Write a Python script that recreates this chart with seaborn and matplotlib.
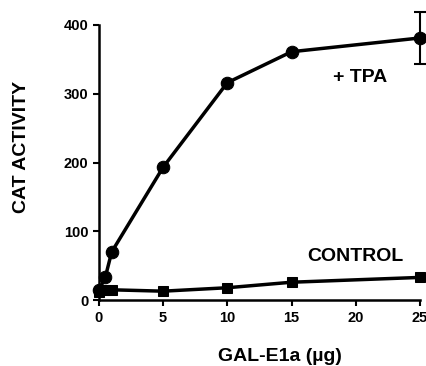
import matplotlib
matplotlib.use("Agg")
import matplotlib.pyplot as plt
import seaborn as sns
import pandas as pd

# values
tpa_dose = [0, 0.5, 1, 5, 10, 15, 25]
tpa_cat = [14, 33, 70, 193, 316, 361, 381]
tpa_err = [0, 0, 0, 0, 0, 0, 38]

ctrl_dose = [0, 0.5, 1, 5, 10, 15, 25]
ctrl_cat = [12, 14, 15, 13, 18, 26, 33]

x_ticks = [0, 5, 10, 15, 20, 25]
y_ticks = [0, 100, 200, 300, 400]

sns.set_style("ticks")
plt.rcParams["font.family"] = ["Liberation Sans", "DejaVu Sans"]
plt.rcParams["font.weight"] = "bold"
plt.rcParams["text.color"] = "black"
plt.rcParams["axes.labelcolor"] = "black"
plt.rcParams["xtick.color"] = "black"
plt.rcParams["ytick.color"] = "black"

tpa = pd.DataFrame({"dose": tpa_dose, "cat": tpa_cat, "err": tpa_err})
ctrl = pd.DataFrame({"dose": ctrl_dose, "cat": ctrl_cat})

fig = plt.figure(figsize=(4.26, 3.66), dpi=100)
ax = fig.add_axes([0.232, 0.180, 0.754, 0.752])

sns.lineplot(data=ctrl, x="dose", y="cat", ax=ax, color="black", lw=2.5,
             marker="s", markersize=7.5, markeredgecolor="black", clip_on=False, zorder=3)
sns.lineplot(data=tpa, x="dose", y="cat", ax=ax, color="black", lw=2.5,
             marker="o", markersize=9, markeredgecolor="black", clip_on=False, zorder=4)
ax.errorbar(tpa["dose"], tpa["cat"], yerr=tpa["err"], fmt="none", ecolor="black",
            elinewidth=1.5, capsize=4, capthick=1.5, clip_on=False, zorder=2)

ax.set_xlim(0, 25)
ax.set_ylim(0, 400)
ax.set_xticks(x_ticks)
ax.set_yticks(y_ticks)
ax.tick_params(labelsize=10.5, width=1.5, length=4, color="black", labelcolor="black")
for lab in ax.get_xticklabels() + ax.get_yticklabels():
    lab.set_fontweight("bold")
sns.despine(ax=ax)
for s in ["left", "bottom"]:
    ax.spines[s].set_linewidth(1.8)
    ax.spines[s].set_color("black")

ax.set_xlabel("GAL-E1a (\u00b5g)", fontsize=14, fontweight="bold", color="black")
ax.set_ylabel("CAT ACTIVITY", fontsize=14, fontweight="bold", color="black")
ax.xaxis.set_label_coords(0.564, -0.175)
ax.yaxis.set_label_coords(-0.215, 0.556)

ax.text(20.3, 323, "+ TPA", fontsize=14, fontweight="bold", ha="center", va="center")
ax.text(20.0, 64, "CONTROL", fontsize=14, fontweight="bold", ha="center", va="center")

fig.savefig("out.png", dpi=100)
